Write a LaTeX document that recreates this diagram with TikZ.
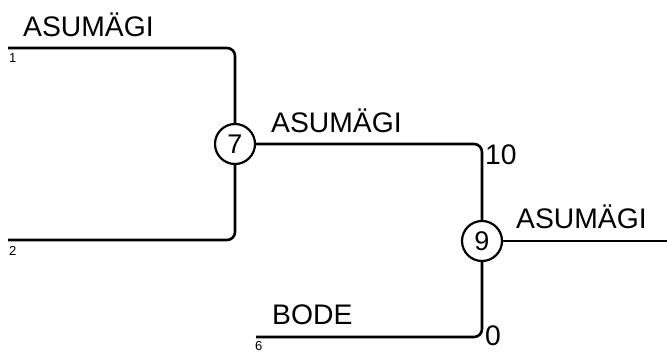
\documentclass[tikz,border=0pt]{standalone}
\usepackage{fontspec}
\setmainfont{Liberation Sans}
\begin{document}
\begin{tikzpicture}[x=1pt,y=-1pt,
 wire/.style={draw, line width=2.6pt, rounded corners=8pt},
 junc/.style={circle, draw, line width=2.2pt, minimum size=40pt, inner sep=0pt, font=\fontsize{27}{27}\selectfont},
 big/.style={font=\fontsize{28.3}{28.3}\selectfont, inner sep=0pt, anchor=base west},
 small/.style={font=\fontsize{13}{13}\selectfont, inner sep=0pt, anchor=base west}]
\useasboundingbox (0,0) rectangle (667,351);
\node[junc] (c7) at (235,144) {7};
\node[junc] (c9) at (482,241) {9};
\coordinate (s1) at (8,48);
\coordinate (s2) at (8,240);
\coordinate (s6) at (256,337);
\coordinate (out) at (667,241);
\draw[wire] (s1) -| (c7.north);
\draw[wire] (s2) -| (c7.south);
\draw[wire] (c7.east) -| (c9.north);
\draw[wire] (s6) -| (c9.south);
\draw[wire] (c9.east) -- (out);
\node[big] (l1) at (23,36) {ASUMÄGI};
\node[big] (l2) at (271,132) {ASUMÄGI};
\node[big] (l3) at (516,228) {ASUMÄGI};
\node[big] (l4) at (272,324) {BODE};
\node[big] (n10) at (485,164) {10};
\node[big] (n0) at (485,345.5) {0};
\node[small] (n1) at (9,62) {1};
\node[small] (n2) at (9,255) {2};
\node[small] (n6) at (255,350) {6};
\end{tikzpicture}
\end{document}
